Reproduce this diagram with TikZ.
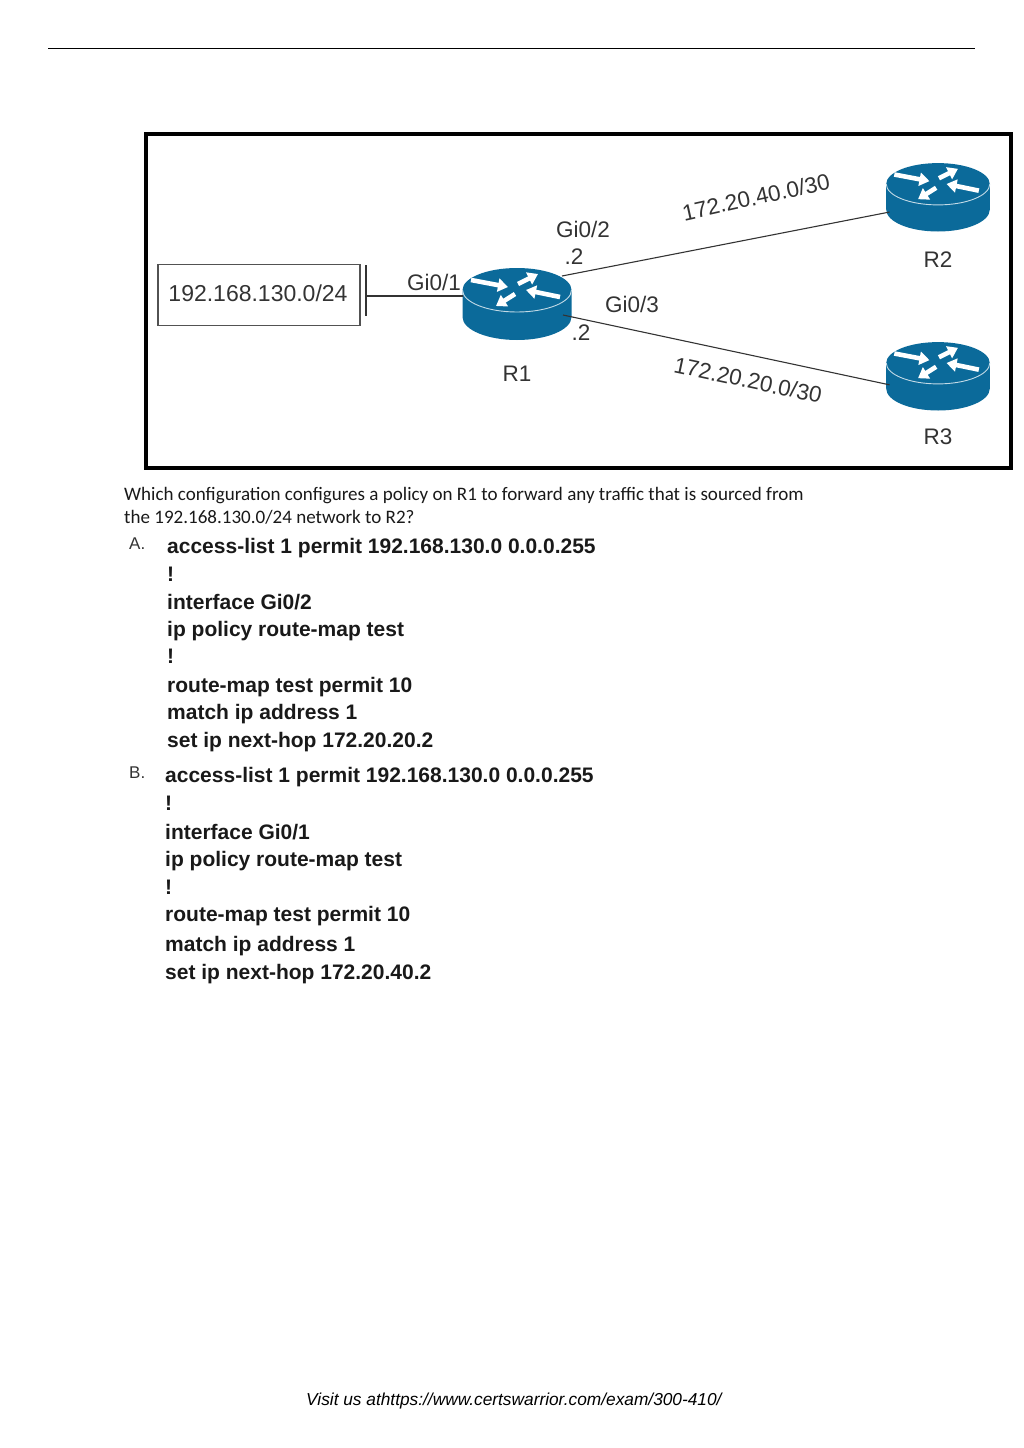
\documentclass[tikz,border=0pt]{standalone}
\usepackage{fontspec}
\setmainfont{Liberation Sans}
\newfontfamily\carlitofont{Carlito}
\usetikzlibrary{arrows.meta}
\definecolor{routerblue}{HTML}{0B6A9A}
\definecolor{labelgray}{HTML}{333333}
\tikzset{
  lbl/.style={inner sep=0pt,text=labelgray,font=\fontsize{22.5}{24}\selectfont},
  ifline/.style={draw=labelgray,line width=1.1pt},
  codeline/.style={anchor=west,inner sep=0pt,text=black!90,font=\fontsize{21}{23}\selectfont\bfseries},
  optmark/.style={anchor=west,inner sep=0pt,text=labelgray,font=\fontsize{17}{19}\selectfont},
  qline/.style={anchor=west,inner sep=0pt,text=black!90,font=\carlitofont\fontsize{19.05}{22}\selectfont},
  routerarrow/.style={draw=white,line width=4.6pt,-{Triangle[length=10pt,width=13pt]}},
  routericon/.pic={
    \fill[routerblue] (-54.5,0) -- (-54.5,27) arc (180:0:54.5 and 23) -- (54.5,0) arc (0:-180:54.5 and 22) -- cycle;
    \draw[white!75!routerblue,line width=.9pt] (-54.5,0) arc (180:0:54.5 and 22);
    \draw[routerarrow] (-46,-10) -- (-9,-3);
    \draw[routerarrow] (1,-6) -- (21,-16);
    \draw[routerarrow] (43,7) -- (9,0);
    \draw[routerarrow] (-2,4) -- (-21,16);
    \coordinate (-west) at (-54.5,6);
    \coordinate (-up) at (45,-14);
    \coordinate (-low) at (46,25);
    \coordinate (-in) at (-51,29.5);
    \coordinate (-inlow) at (-51,23);
  }
}
\begin{document}
\begin{tikzpicture}[x=1pt,y=-1pt]
\useasboundingbox (0,0) rectangle (1024,1448);

\draw[line width=1pt] (48,48) -- (975,48);
\draw[line width=3.4pt] (146,134) rectangle (1011,468);

\pic (r1) at (517,290) {routericon};
\pic[scale=.95] (r2) at (938,184) {routericon};
\pic[scale=.95] (r3) at (938,363) {routericon};

\node[draw=labelgray!85,line width=1.2pt,minimum width=202pt,minimum height=61pt,lbl,inner sep=0pt] (net) at (259,295) {};
\node[lbl,font=\fontsize{23}{24}\selectfont] (netlbl) at (258,293) {192.168.130.0/24};

\coordinate (bartop) at (366,265);
\coordinate (barbot) at (366,316);
\coordinate (barmid) at (366,296);
\draw[ifline] (bartop) -- (barbot);
\draw[ifline] (barmid) -- (r1-west);
\draw[ifline] (r1-up) -- (r2-in);
\draw[ifline] (r1-low) -- (r3-inlow);

\node[lbl] (lr1) at (517,374) {R1};
\node[lbl] (lr2) at (938,260) {R2};
\node[lbl] (lr3) at (938,437) {R3};
\node[lbl] (g1) at (434,282) {Gi0/1};
\node[lbl] (g2) at (583,229) {Gi0/2};
\node[lbl] (g3) at (632,304) {Gi0/3};
\node[lbl] (d2) at (574,257) {.2};
\node[lbl] (d3) at (581,333) {.2};
\node[lbl,rotate=12.5] (n40) at (756,197) {172.20.40.0/30};
\node[lbl,rotate=-12] (n20) at (748,380) {172.20.20.0/30};

\node[qline] (q1) at (124,496) {Which configuration configures a policy on R1 to forward any traffic that is sourced from};
\node[qline] (q2) at (124,517) {the 192.168.130.0/24 network to R2?};

\node[optmark] (opta) at (129,544) {A.};
\node[optmark] (optb) at (129,773) {B.};

\foreach \y/\txt [count=\i] in {548/{access-list 1 permit 192.168.130.0 0.0.0.255},574/!,602/{interface Gi0/2},631/{ip policy route-map test},656/!,687/{route-map test permit 10},714/{match ip address 1},742/{set ip next-hop 172.20.20.2}}
  \node[codeline] (a\i) at (167,\y) {\txt};

\foreach \y/\txt [count=\i] in {777/{access-list 1 permit 192.168.130.0 0.0.0.255},803/!,832/{interface Gi0/1},861/{ip policy route-map test},887/!,916/{route-map test permit 10},946/{match ip address 1},974/{set ip next-hop 172.20.40.2}}
  \node[codeline] (b\i) at (165,\y) {\txt};

\node[anchor=west,inner sep=0pt,font=\fontsize{17.3}{20}\selectfont\itshape] (foot) at (306,1401) {Visit us athttps://www.certswarrior.com/exam/300-410/};
\end{tikzpicture}
\end{document}
